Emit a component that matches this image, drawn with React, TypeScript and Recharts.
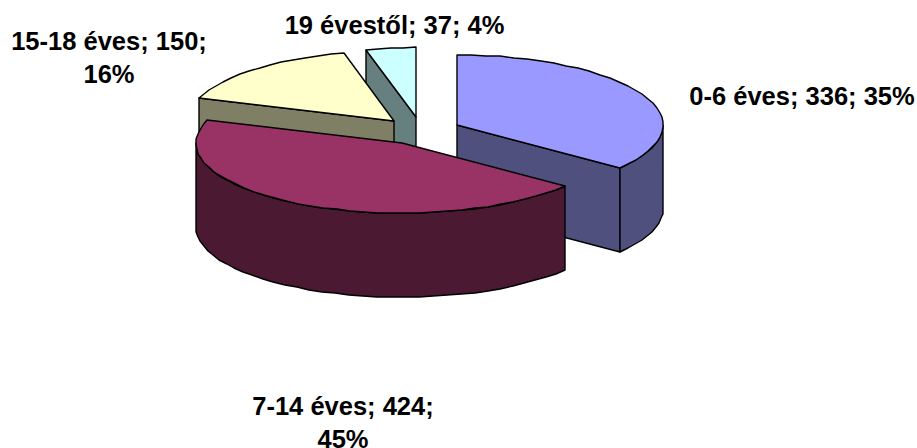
import React from "react";
import { Pie, PieChart } from "recharts";

const ageGroups = ["0-6 éves", "7-14 éves", "15-18 éves", "19 évestől"];
const counts = [336, 424, 150, 37];
const topColors = ["#9999FF", "#993366", "#FFFFCC", "#CCFFFF"];
const wallColors = ["#50507F", "#4C1933", "#7F7F66", "#667F7F"];

// back to front, so the front slices cover the walls behind them
const paintOrder = [3, 2, 0, 1];

const rows = ageGroups.map((name, i) => ({ name, value: counts[i] }));

const CX = 421;
const CY = 131;
const RX = 206;
const SQUASH = 0.34;
const DEPTH = 84;
const EXPLODE = 0.195;

const labelSpots: Record<string, { x: number; y: number; wrap: boolean }> = {
  "0-6 éves": { x: 802, y: 105, wrap: false },
  "7-14 éves": { x: 343, y: 414.5, wrap: true },
  "15-18 éves": { x: 109, y: 49.5, wrap: true },
  "19 évestől": { x: 394.5, y: 34, wrap: false },
};

const rad = (deg: number) => (deg * Math.PI) / 180;

function SliceShape(props: any) {
  const index = ageGroups.indexOf(props.name);
  if (index !== props.layer) return null;

  const from = 90 - props.startAngle;
  const to = 90 - props.endAngle;
  const mid = (from + to) / 2;
  const rx = props.outerRadius;
  const ry = rx * SQUASH;
  const cx = props.cx + Math.sin(rad(mid)) * rx * EXPLODE;
  const cy = props.cy - Math.cos(rad(mid)) * ry * EXPLODE;

  const rim = (deg: number, drop = 0) => [
    cx + Math.sin(rad(deg)) * rx,
    cy - Math.cos(rad(deg)) * ry + drop,
  ];
  const arc = (a: number, b: number, drop = 0) => {
    const pts = [];
    const steps = Math.max(1, Math.ceil(Math.abs(b - a) / 4));
    for (let i = 0; i <= steps; i++) {
      pts.push(rim(a + ((b - a) * i) / steps, drop));
    }
    return pts;
  };
  // whole pixels, the original outline is a coarse polyline too
  const toPath = (pts: number[][]) =>
    "M" + pts.map((p) => `${Math.round(p[0])},${Math.round(p[1])}`).join("L") + "Z";

  const apex = [cx, cy];
  const apexLow = [cx, cy + DEPTH];
  const cut = (deg: number) => toPath([apex, rim(deg), rim(deg, DEPTH), apexLow]);

  const sideFrom = Math.max(from, 90);
  const sideTo = Math.min(to, 270);
  const hasSide = sideFrom < sideTo;
  const line = { stroke: "#000", strokeWidth: 1.4, strokeLinejoin: "round" as const };

  return (
    <g>
      {from > 180 && from < 360 && <path d={cut(from)} fill={wallColors[index]} {...line} />}
      {to > 0 && to < 180 && <path d={cut(to)} fill={wallColors[index]} {...line} />}
      {hasSide && (
        <path
          d={toPath([...arc(sideFrom, sideTo), ...arc(sideTo, sideFrom, DEPTH)])}
          fill={wallColors[index]}
          {...line}
        />
      )}
      <path d={toPath([apex, ...arc(from, to)])} fill={topColors[index]} {...line} />
    </g>
  );
}

function SliceLabel(props: any) {
  const spot = labelSpots[props.name];
  const head = `${props.name}; ${props.value};`;
  const pct = `${Math.round(props.percent * 100)}%`;
  return (
    <text
      x={spot.x}
      y={spot.y}
      textAnchor="middle"
      fontFamily="Liberation Sans"
      fontWeight="bold"
      fontSize={25.5}
      fill="#000"
    >
      {spot.wrap ? (
        <>
          <tspan x={spot.x}>{head}</tspan>
          <tspan x={spot.x} dy={33}>{pct}</tspan>
        </>
      ) : (
        `${head} ${pct}`
      )}
    </text>
  );
}

export default function App() {
  return (
    <div style={{ position: "absolute", left: 0, top: 0, width: 917, height: 448, background: "#fff" }}>
      <PieChart width={917} height={448} margin={{ top: 0, right: 0, bottom: 0, left: 0 }}>
        {paintOrder.map((layer, i) => (
          <Pie
            key={layer}
            data={rows}
            dataKey="value"
            nameKey="name"
            cx={CX}
            cy={CY}
            innerRadius={0}
            outerRadius={RX}
            startAngle={90}
            endAngle={-270}
            stroke="none"
            isAnimationActive={false}
            labelLine={false}
            label={i === paintOrder.length - 1 ? SliceLabel : false}
            shape={(p: any) => <SliceShape {...p} layer={layer} />}
          />
        ))}
      </PieChart>
    </div>
  );
}
